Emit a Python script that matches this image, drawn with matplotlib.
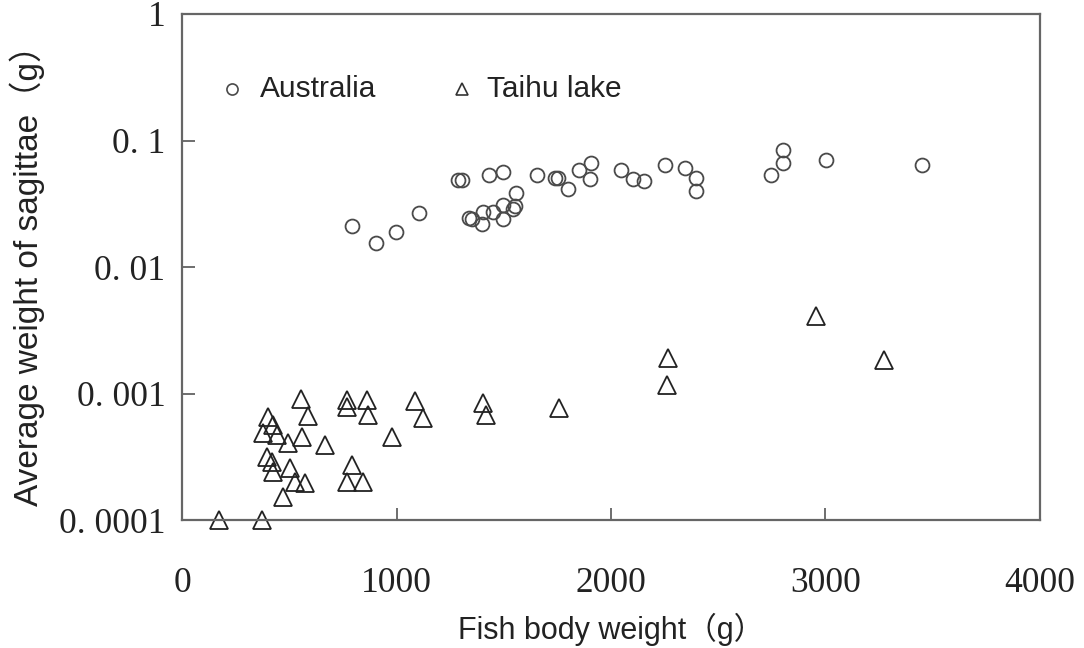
import matplotlib
matplotlib.use("Agg")
import matplotlib.pyplot as plt
from matplotlib.ticker import FixedLocator, FixedFormatter

# Australia sagittae (circles)
aus_x = [793, 903, 998, 1103, 1285, 1304, 1433, 1495, 1340, 1350, 1401, 1400,
         1451, 1495, 1495, 1552, 1557, 1545, 1655, 1739, 1754, 1801, 1852, 1905,
         1902, 2047, 2101, 2154, 2250, 2345, 2396, 2395, 2746, 2802, 2802, 3002,
         3450]
aus_y = [0.0211, 0.0154, 0.0188, 0.0269, 0.0487, 0.0487, 0.053, 0.056, 0.0243,
         0.0238, 0.0271, 0.0218, 0.0271, 0.0309, 0.0239, 0.0302, 0.0383, 0.0290,
         0.053, 0.0506, 0.0506, 0.0414, 0.0584, 0.066, 0.0499, 0.0584, 0.0499,
         0.0479, 0.064, 0.061, 0.0508, 0.0401, 0.0533, 0.084, 0.0664, 0.070,
         0.064]

# Taihu lake sagittae (triangles)
tai_x = [555, 587, 401, 424, 378, 443, 494, 559, 667, 769, 769, 862, 867, 396,
         420, 424, 503, 527, 573, 471, 793, 769, 844, 172, 373, 979, 1086, 1124,
         1403, 1417, 1758, 2261, 2266, 2956, 3273]
tai_y = [0.000906, 0.000664, 0.000652, 0.000564, 0.000487, 0.00047, 0.000406,
         0.000453, 0.000392, 0.000889, 0.000782, 0.000889, 0.000676, 0.000315,
         0.000287, 0.00024, 0.000258, 0.0002, 0.000196, 0.000152, 0.000272,
         0.0002, 0.0002, 0.0001, 0.0001, 0.000453, 0.000873, 0.00064, 0.000842,
         0.000676, 0.000768, 0.00117, 0.00191, 0.0041, 0.00184]

yticks = [0.0001, 0.001, 0.01, 0.1, 1]
ytick_labels = ["0. 0001", "0. 001", "0. 01", "0. 1", "1"]
xticks = [0, 1000, 2000, 3000, 4000]

sans = ["Liberation Sans", "Noto Sans CJK SC", "DejaVu Sans"]
serif = ["Liberation Serif", "DejaVu Serif"]

fig = plt.figure(figsize=(10.84, 6.48), dpi=100)
ax = fig.add_axes([0.1679, 0.1975, 0.7915, 0.7809])

ax.plot(aus_x, aus_y, linestyle="none", marker="o", markersize=10,
        markerfacecolor="none", markeredgecolor="#4a4a4a", markeredgewidth=1.3,
        clip_on=False)
ax.plot(tai_x, tai_y, linestyle="none", marker="^", markersize=13,
        markerfacecolor="none", markeredgecolor="#222222", markeredgewidth=1.3,
        clip_on=False)

ax.set_yscale("log")
ax.set_xlim(0, 4000)
ax.set_ylim(0.0001, 1)

ax.yaxis.set_major_locator(FixedLocator(yticks))
ax.yaxis.set_major_formatter(FixedFormatter(ytick_labels))
ax.yaxis.set_minor_locator(FixedLocator([]))
ax.set_xticks(xticks)

ax.tick_params(axis="both", direction="in", length=9, width=1.2, color="#555555",
               top=False, right=False)
ax.tick_params(axis="y", pad=12)
ax.tick_params(axis="x", pad=34)
for lab in ax.get_xticklabels() + ax.get_yticklabels():
    lab.set_family(serif)
    lab.set_fontsize(25.5)
    lab.set_color("#222222")

for sp in ax.spines.values():
    sp.set_color("#666666")
    sp.set_linewidth(1.6)

ax.set_xlabel("Fish body weight（g）", family=sans, fontsize=22, color="#222222",
              labelpad=9)
ax.set_ylabel("Average weight of sagittae（g）", family=sans, fontsize=24,
              color="#222222", labelpad=10)

# legend drawn by hand
ax.plot([0.058], [0.852], transform=ax.transAxes, marker="o", markersize=8,
        markerfacecolor="none", markeredgecolor="#4a4a4a", markeredgewidth=1.2)
ax.text(0.091, 0.852, "Australia", transform=ax.transAxes, family=sans,
        fontsize=21.5, va="center", color="#222222")
ax.plot([0.326], [0.852], transform=ax.transAxes, marker="^", markersize=9,
        markerfacecolor="none", markeredgecolor="#333333", markeredgewidth=1.2)
ax.text(0.355, 0.852, "Taihu lake", transform=ax.transAxes, family=sans,
        fontsize=21.5, va="center", color="#222222")

fig.savefig("out.png", dpi=100)
